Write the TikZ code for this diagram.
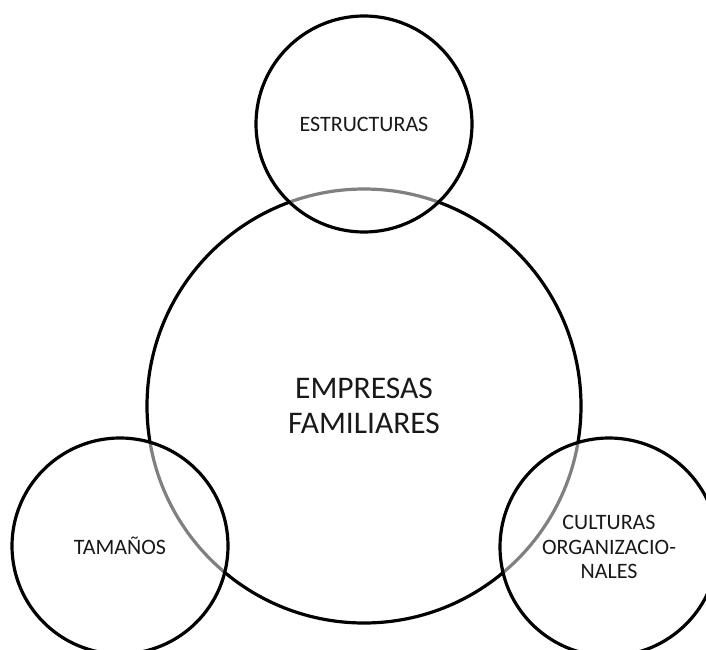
\documentclass[tikz,border=0pt]{standalone}
\usepackage{fontspec}
\setmainfont{Carlito}
\begin{document}
\begin{tikzpicture}[x=1pt,y=1pt,
  ring/.style={circle, draw=black, line width=3.2pt, inner sep=0pt, text=black!90},
  small/.style={ring, fill=white, fill opacity=0.5, text opacity=1, align=center,
    font=\fontsize{22}{24.5}\selectfont},
  bigtext/.style={font=\fontsize{31.5}{35}\selectfont, align=center, text=black!90}]
\useasboundingbox (0,0) rectangle (706,649);
\node[ring, minimum size=434pt] (big) at (364,243) {};
\node[bigtext] (bigl) at (big.center) {EMPRESAS\\FAMILIARES};
\node[small, minimum size=216pt] (top) at (364,525) {ESTRUCTURAS};
\node[small, minimum size=216pt] (left) at (120,103) {TAMAÑOS};
\node[small, minimum size=218pt] (right) at (609,102) {CULTURAS\\ORGANIZACIO-\\NALES};
\end{tikzpicture}
\end{document}
